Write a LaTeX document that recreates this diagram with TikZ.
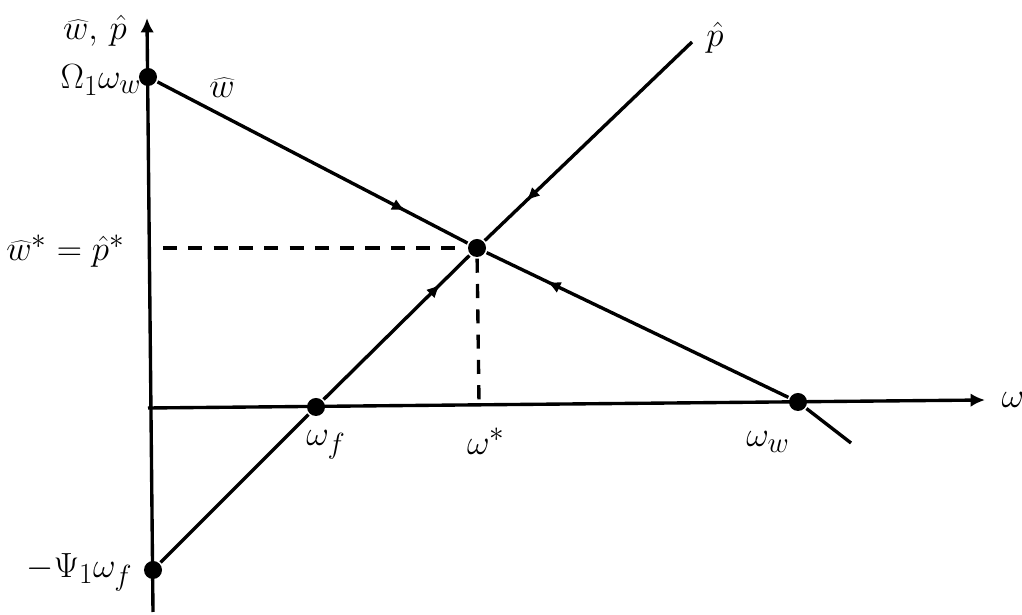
\documentclass[tikz,border=0pt]{standalone}
\usetikzlibrary{arrows.meta,decorations.markings}
\tikzset{
  dot/.style={circle,fill=black,inner sep=0pt,minimum size=0.45cm},
  towards/.style={postaction={decorate},
    decoration={markings,mark=at position 0.8 with {\arrow{Latex[length=0.34cm,width=0.3cm]}}}},
  axis/.style={-{Latex[length=0.36cm,width=0.34cm]}},
  guide/.style={dash pattern=on 10pt off 8pt},
}
\begin{document}
\begin{tikzpicture}[x=0.025cm,y=-0.025cm,line width=2.4pt,font=\Huge]
  \useasboundingbox (0,0) rectangle (1022,615);

  % axes
  \coordinate (ybot) at (153,612);
  \coordinate (ytop) at (147,18);
  \coordinate (xleft) at (148,408);
  \coordinate (xright) at (985,400);
  \draw[axis] (ybot) -- (ytop);
  \draw[axis] (xleft) -- (xright);

  % points
  \node[dot] (omega) at (148,77) {};
  \node[dot] (psi) at (153,570) {};
  \node[dot] (wf) at (316,407) {};
  \node[dot] (ww) at (798,402) {};
  \node[dot] (star) at (477,248) {};
  \coordinate (wend) at (851,443);
  \coordinate (pend) at (692,42);
  \coordinate (hstart) at (163,248);
  \coordinate (vend) at (479,403);

  % the two lines
  \draw[towards] (omega) -- (star);
  \draw[towards] (ww) -- (star);
  \draw (ww) -- (wend);
  \draw (psi) -- (wf);
  \draw[towards] (wf) -- (star);
  \draw[towards] (pend) -- (star);

  \draw[guide] (hstart) -- (star);
  \draw[guide] (star) -- (vend);

  % labels
  \node at (95,31) {$\widehat{w},\,\hat{p}$};
  \node[anchor=east,inner sep=0pt] at (143,80) {$\Omega_1\omega_w$};
  \node at (222,88) {$\widehat{w}$};
  \node at (715,38) {$\hat{p}$};
  \node[anchor=east,inner sep=0pt] at (126,251) {$\widehat{w}^*=\hat{p}^*$};
  \node at (326,445) {$\omega_f$};
  \node at (486,441) {$\omega^*$};
  \node at (768,442) {$\omega_w$};
  \node at (1013,400) {$\omega$};
  \node[anchor=east,inner sep=0pt] at (134,572) {$-\Psi_1\omega_f$};
\end{tikzpicture}
\end{document}
